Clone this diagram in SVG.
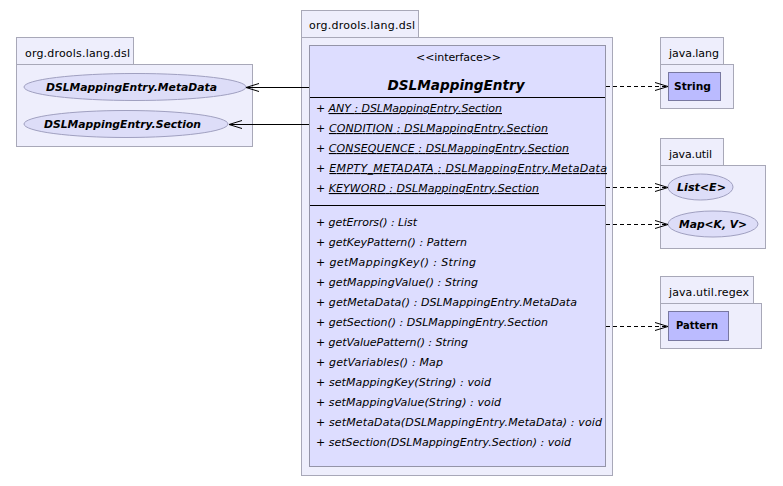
<svg xmlns="http://www.w3.org/2000/svg" width="783" height="486" viewBox="0 0 783 486">
<style>
.pkg{fill:#EEEEFC;stroke:#A8A8B8;stroke-width:1}
.cls{fill:#DDDDFF;stroke:#9494A8;stroke-width:1}
.box{fill:#BBBBFF;stroke:#7878A0;stroke-width:1}
.ell{fill:#DDDDF8;stroke:#A0A0C0;stroke-width:1}
.t{font-family:"DejaVu Sans",sans-serif;font-size:11px;fill:#000}
.i{font-style:italic}
.b{font-weight:bold}
.u{text-decoration:underline}
.sep{stroke:#000;stroke-width:1}
.solid{stroke:#000;stroke-width:1;fill:none}
.dash{stroke:#000;stroke-width:1;fill:none;stroke-dasharray:4,3}
</style>
<defs>
<marker id="arr" markerUnits="userSpaceOnUse" markerWidth="16" markerHeight="12" refX="14" refY="6" orient="auto" viewBox="0 0 16 12">
<path d="M1,2 L14,6 L1,10" fill="none" stroke="#000" stroke-width="1"/>
</marker>
</defs>
<rect width="783" height="486" fill="#FFFFFF"/>

<g id="pkg-left">
<rect class="pkg" x="16.5" y="37.5" width="117" height="27"/>
<rect class="pkg" x="16.5" y="64.5" width="236" height="82"/>
<text class="t" x="25" y="57" textLength="105">org.drools.lang.dsl</text>
</g>
<g id="node-metadata">
<ellipse class="ell" cx="135" cy="87" rx="111" ry="13.5"/>
<text class="t i b" x="46" y="91" textLength="171" lengthAdjust="spacingAndGlyphs">DSLMappingEntry.MetaData</text>
</g>
<g id="node-section">
<ellipse class="ell" cx="126" cy="124" rx="102" ry="13.5"/>
<text class="t i b" x="44" y="128" textLength="157" lengthAdjust="spacingAndGlyphs">DSLMappingEntry.Section</text>
</g>

<g id="pkg-center">
<rect class="pkg" x="301.5" y="10.5" width="117" height="27"/>
<rect class="pkg" x="301.5" y="37.5" width="311" height="438"/>
<text class="t" x="309" y="29" textLength="106">org.drools.lang.dsl</text>
</g>
<g id="node-dslmappingentry">
<rect class="cls" x="309.5" y="45.5" width="296" height="421"/>
<text class="t" x="416" y="61" textLength="85">&lt;&lt;interface&gt;&gt;</text>
<text class="t i b" x="456" y="90" text-anchor="middle" style="font-size:13.6px">DSLMappingEntry</text>
<line class="sep" x1="310" y1="97.5" x2="605" y2="97.5"/>
<text class="t i" x="316" y="112" textLength="186">+ <tspan class="u">ANY : DSLMappingEntry.Section</tspan></text>
<text class="t i" x="316" y="132" textLength="232">+ <tspan class="u">CONDITION : DSLMappingEntry.Section</tspan></text>
<text class="t i" x="316" y="152" textLength="253">+ <tspan class="u">CONSEQUENCE : DSLMappingEntry.Section</tspan></text>
<text class="t i" x="316" y="172" textLength="291">+ <tspan class="u">EMPTY_METADATA : DSLMappingEntry.MetaData</tspan></text>
<text class="t i" x="316" y="192" textLength="223">+ <tspan class="u">KEYWORD : DSLMappingEntry.Section</tspan></text>
<line class="sep" x1="310" y1="205.5" x2="605" y2="205.5"/>
<text class="t i" x="316" y="226" textLength="101">+ getErrors() : List</text>
<text class="t i" x="316" y="246" textLength="151">+ getKeyPattern() : Pattern</text>
<text class="t i" x="316" y="266" textLength="160">+ getMappingKey() : String</text>
<text class="t i" x="316" y="286" textLength="162">+ getMappingValue() : String</text>
<text class="t i" x="316" y="306" textLength="261">+ getMetaData() : DSLMappingEntry.MetaData</text>
<text class="t i" x="316" y="326" textLength="232">+ getSection() : DSLMappingEntry.Section</text>
<text class="t i" x="316" y="346" textLength="152">+ getValuePattern() : String</text>
<text class="t i" x="316" y="366" textLength="127">+ getVariables() : Map</text>
<text class="t i" x="316" y="386" textLength="175">+ setMappingKey(String) : void</text>
<text class="t i" x="316" y="406" textLength="185">+ setMappingValue(String) : void</text>
<text class="t i" x="316" y="426" textLength="286">+ setMetaData(DSLMappingEntry.MetaData) : void</text>
<text class="t i" x="316" y="446" textLength="255">+ setSection(DSLMappingEntry.Section) : void</text>
</g>

<g id="pkg-java-lang">
<rect class="pkg" x="660.5" y="37.5" width="63" height="27"/>
<rect class="pkg" x="660.5" y="64.5" width="73" height="44"/>
<text class="t" x="669" y="57" textLength="50">java.lang</text>
</g>
<g id="node-string">
<rect class="box" x="668.5" y="72.5" width="52" height="28"/>
<text class="t b" x="674" y="90" textLength="37" lengthAdjust="spacingAndGlyphs">String</text>
</g>

<g id="pkg-java-util">
<rect class="pkg" x="660.5" y="138.5" width="63" height="27"/>
<rect class="pkg" x="660.5" y="165.5" width="105" height="83"/>
<text class="t" x="669" y="158" textLength="43">java.util</text>
</g>
<g id="node-list">
<ellipse class="ell" cx="700.5" cy="187" rx="32.5" ry="13"/>
<text class="t i b" x="677" y="191" textLength="49" lengthAdjust="spacingAndGlyphs">List&lt;E&gt;</text>
</g>
<g id="node-map">
<ellipse class="ell" cx="713" cy="224" rx="45" ry="13"/>
<text class="t i b" x="679" y="228" textLength="68" lengthAdjust="spacingAndGlyphs">Map&lt;K, V&gt;</text>
</g>

<g id="pkg-java-util-regex">
<rect class="pkg" x="660.5" y="276.5" width="93" height="27"/>
<rect class="pkg" x="660.5" y="303.5" width="101" height="45"/>
<text class="t" x="669" y="296" textLength="80">java.util.regex</text>
</g>
<g id="node-pattern">
<rect class="box" x="668.5" y="311.5" width="60" height="29"/>
<text class="t b" x="676" y="329" textLength="42" lengthAdjust="spacingAndGlyphs">Pattern</text>
</g>

<g id="connectors">
<line class="solid" x1="309" y1="87.5" x2="246" y2="87.5" marker-end="url(#arr)"/>
<line class="solid" x1="309" y1="124.5" x2="229" y2="124.5" marker-end="url(#arr)"/>
<line class="dash" x1="606" y1="86.5" x2="668" y2="86.5" marker-end="url(#arr)"/>
<line class="dash" x1="606" y1="187.5" x2="668" y2="187.5" marker-end="url(#arr)"/>
<line class="dash" x1="606" y1="224.5" x2="668" y2="224.5" marker-end="url(#arr)"/>
<line class="dash" x1="606" y1="326.5" x2="668" y2="326.5" marker-end="url(#arr)"/>
</g>
</svg>
